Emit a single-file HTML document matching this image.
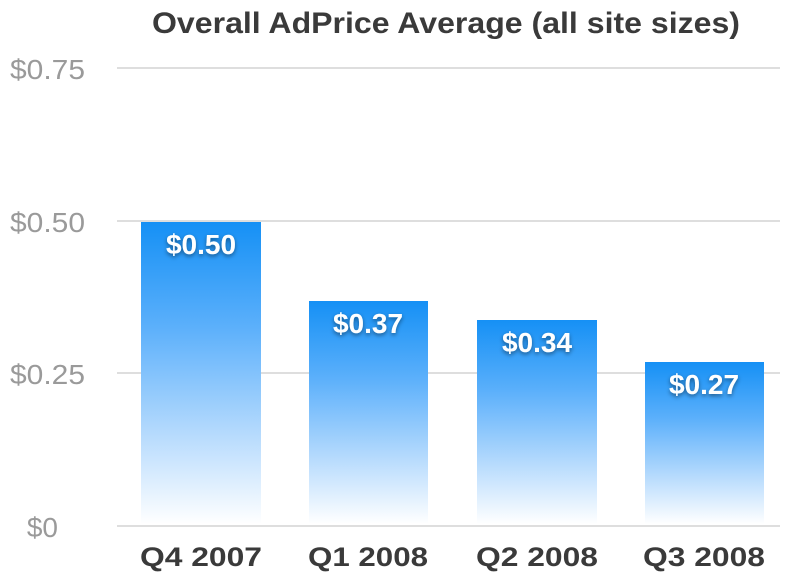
<!DOCTYPE html>
<html><head><style>body{margin:0;background:#fff}</style></head><body>
<svg width="800" height="582" xmlns="http://www.w3.org/2000/svg" font-family="Liberation Sans, sans-serif">
<defs><linearGradient id="g" x1="0" y1="0" x2="0" y2="1">
<stop offset="0" stop-color="#1590f5"/><stop offset="0.35" stop-color="#5cb0fb"/><stop offset="0.7" stop-color="#b5dafd"/><stop offset="1" stop-color="#ffffff"/></linearGradient>
<filter id="s"><feDropShadow dx="0" dy="2" stdDeviation="2" flood-color="#000" flood-opacity="0.45"/></filter></defs>
<text x="152" y="33" textLength="588" lengthAdjust="spacingAndGlyphs" font-size="30" font-weight="bold" fill="#3a3a3a">Overall AdPrice Average (all site sizes)</text>
<g stroke="#d4d4d4" stroke-width="1.5">
<line x1="117" y1="68" x2="780" y2="68"/><line x1="117" y1="221" x2="780" y2="221"/><line x1="117" y1="373" x2="780" y2="373"/><line x1="117" y1="526" x2="780" y2="526"/></g>
<g font-size="28" fill="#9a9a9a" text-anchor="end">
<text x="85" y="79" textLength="75" lengthAdjust="spacingAndGlyphs">$0.75</text><text x="85" y="232" textLength="75" lengthAdjust="spacingAndGlyphs">$0.50</text><text x="85" y="384" textLength="75" lengthAdjust="spacingAndGlyphs">$0.25</text><text x="58" y="537">$0</text></g>
<g fill="url(#g)">
<rect x="141" y="222" width="120" height="302"/><rect x="309" y="301" width="119" height="223"/><rect x="477" y="320" width="120" height="204"/><rect x="645" y="362" width="119" height="162"/></g>
<g font-size="28" font-weight="bold" fill="#fff" text-anchor="middle" filter="url(#s)">
<text x="201" y="254">$0.50</text><text x="368" y="333">$0.37</text><text x="537" y="352">$0.34</text><text x="704" y="394">$0.27</text></g>
<g font-size="27" font-weight="bold" fill="#3a3a3a" text-anchor="middle">
<text x="201" y="566" textLength="122" lengthAdjust="spacingAndGlyphs">Q4 2007</text><text x="368" y="566" textLength="120" lengthAdjust="spacingAndGlyphs">Q1 2008</text><text x="537" y="566" textLength="122" lengthAdjust="spacingAndGlyphs">Q2 2008</text><text x="704" y="566" textLength="122" lengthAdjust="spacingAndGlyphs">Q3 2008</text></g>
</svg>
</body></html>
